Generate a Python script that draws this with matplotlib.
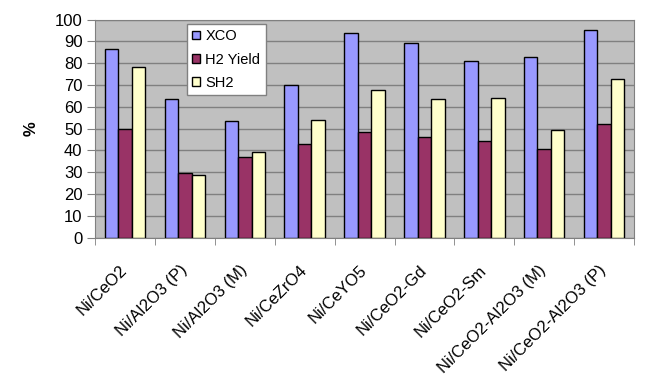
import numpy as np
import matplotlib.pyplot as plt
import matplotlib.transforms as mtransforms

plt.rcParams['font.family'] = ['Liberation Sans', 'DejaVu Sans']

catalysts = ['Ni/CeO2', 'Ni/Al2O3 (P)', 'Ni/Al2O3 (M)', 'Ni/CeZrO4', 'Ni/CeYO5',
             'Ni/CeO2-Gd', 'Ni/CeO2-Sm', 'Ni/CeO2-Al2O3 (M)', 'Ni/CeO2-Al2O3 (P)']
xco = [86.6, 63.7, 53.3, 70.1, 93.7, 89.1, 81.1, 82.9, 95.0]
h2_yield = [49.6, 29.4, 36.8, 42.9, 48.3, 46.0, 44.3, 40.7, 52.2]
sh2 = [78.1, 28.8, 39.2, 53.8, 67.8, 63.7, 64.1, 49.3, 72.7]

fig = plt.figure(figsize=(6.47, 3.92), dpi=100)
ax = fig.add_axes([0.147, 0.394, 0.833, 0.556])
ax.set_facecolor('#C0C0C0')

x = np.arange(len(catalysts))
w = 0.225
ax.bar(x - w, xco, w, color='#9999FF', edgecolor='black', linewidth=1, label='XCO', zorder=3)
ax.bar(x, h2_yield, w, color='#993366', edgecolor='black', linewidth=1, label='H2 Yield', zorder=3)
ax.bar(x + w, sh2, w, color='#FFFFCC', edgecolor='black', linewidth=1, label='SH2', zorder=3)

ax.set_xlim(-0.5, len(catalysts) - 0.5)
ax.set_ylim(0, 100)
ax.set_yticks(range(0, 101, 10))
ax.tick_params(axis='y', labelsize=12, direction='out', length=6, pad=3, color='#808080')
ax.yaxis.grid(True, color='#808080', linewidth=1, zorder=0)
ax.set_axisbelow(True)

ax.set_xticks(np.arange(len(catalysts) + 1) - 0.5, minor=True)
ax.set_xticks(x)
ax.set_xticklabels(catalysts, rotation=45, ha='right', va='top', rotation_mode='anchor', fontsize=12)
ax.tick_params(axis='x', which='major', length=0, pad=18)
ax.tick_params(axis='x', which='minor', length=5, color='#808080', direction='out')
shift = mtransforms.ScaledTranslation(-4 / 72, 0, fig.dpi_scale_trans)
for lbl in ax.get_xticklabels():
    lbl.set_transform(lbl.get_transform() + shift)

for s in ax.spines.values():
    s.set_color('#808080')

ax.set_ylabel('%', fontsize=12, fontweight='bold', labelpad=12)

leg = ax.legend(loc='upper left', bbox_to_anchor=(0.171, 0.98), borderaxespad=0,
                fontsize=10.5, fancybox=False, framealpha=1, edgecolor='#808080',
                handlelength=0.55, handleheight=0.55, handletextpad=0.35,
                borderpad=0.35, labelspacing=0.65)
leg.get_frame().set_linewidth(1)

fig.savefig('out.png', dpi=100)
